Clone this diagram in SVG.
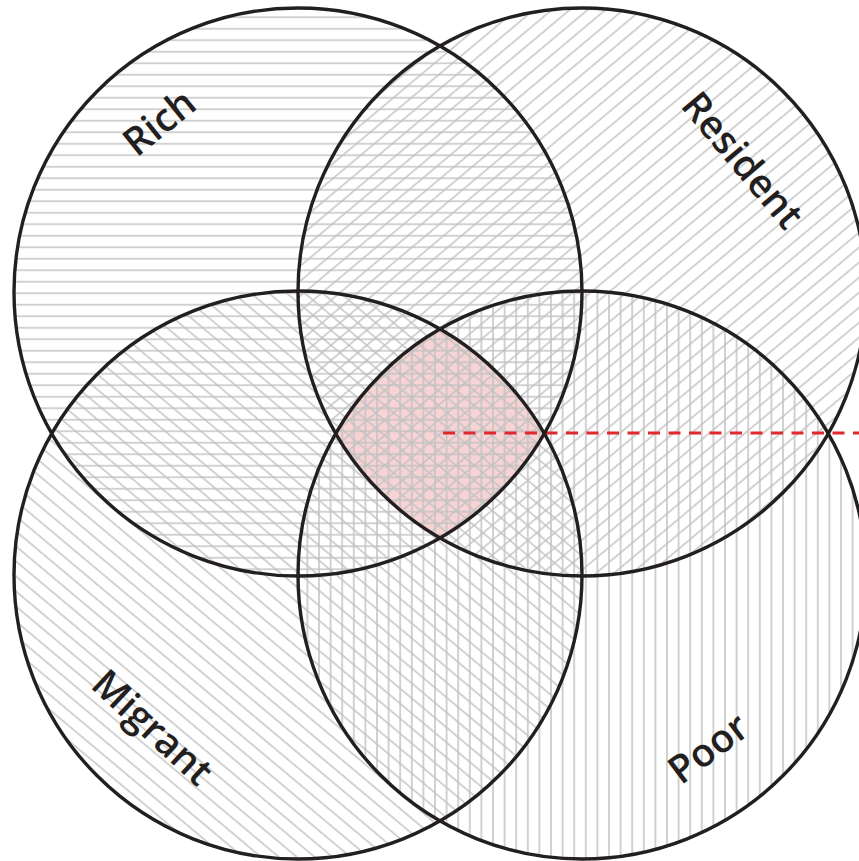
<svg xmlns="http://www.w3.org/2000/svg" width="859" height="861" viewBox="0 0 859 861">
  <style>
    .ring { fill: none; stroke: #231f20; stroke-width: 3.4; }
    .lbl { font-family: "Open Sans", "Noto Sans", "Liberation Sans", sans-serif; font-weight: 600; font-size: 39px; fill: #231f20; text-anchor: middle; }
    .hl { stroke: #c2c2c2; stroke-width: 1.5; }
  </style>
  <defs>
    <pattern id="pH" patternUnits="userSpaceOnUse" width="40" height="11.5">
      <line class="hl" x1="-2" y1="5.75" x2="42" y2="5.75"/>
    </pattern>
    <pattern id="pV" patternUnits="userSpaceOnUse" width="11.6" height="40">
      <line class="hl" x1="5.8" y1="-2" x2="5.8" y2="42"/>
    </pattern>
    <pattern id="pR" patternUnits="userSpaceOnUse" width="40" height="11.5" patternTransform="rotate(-40)">
      <line class="hl" x1="-2" y1="5.75" x2="42" y2="5.75"/>
    </pattern>
    <pattern id="pM" patternUnits="userSpaceOnUse" width="40" height="11.5" patternTransform="rotate(40)">
      <line class="hl" x1="-2" y1="5.75" x2="42" y2="5.75"/>
    </pattern>
  </defs>
  <rect width="859" height="861" fill="#ffffff"/>
  <path id="core" d="M440,329 A284,284 0 0,1 544,433 A284,284 0 0,1 440,538 A284,284 0 0,1 336,433 A284,284 0 0,1 440,329 Z" fill="#f7d3d4"/>
  <g id="rich-fill"><circle cx="298" cy="292" r="284" fill="url(#pH)"/></g>
  <g id="resident-fill"><circle cx="582" cy="292" r="284" fill="url(#pR)"/></g>
  <g id="migrant-fill"><circle cx="298" cy="575" r="284" fill="url(#pM)"/></g>
  <g id="poor-fill"><circle cx="582" cy="575" r="284" fill="url(#pV)"/></g>
  <g id="connectors">
    <line x1="443" y1="433" x2="859" y2="433" stroke="#e2282f" stroke-width="3.2" stroke-dasharray="12,8.5"/>
  </g>
  <g id="rich">
    <circle class="ring" cx="298" cy="292" r="284"/>
    <text class="lbl" transform="translate(159,122) rotate(-39)" y="14">Rich</text>
  </g>
  <g id="resident">
    <circle class="ring" cx="582" cy="292" r="284"/>
    <text class="lbl" transform="translate(743,160) rotate(50)" y="14">Resident</text>
  </g>
  <g id="migrant">
    <circle class="ring" cx="298" cy="575" r="284"/>
    <text class="lbl" transform="translate(153,727) rotate(43)" y="14">Migrant</text>
  </g>
  <g id="poor">
    <circle class="ring" cx="582" cy="575" r="284"/>
    <text class="lbl" transform="translate(708,748) rotate(-37)" y="14">Poor</text>
  </g>
</svg>
